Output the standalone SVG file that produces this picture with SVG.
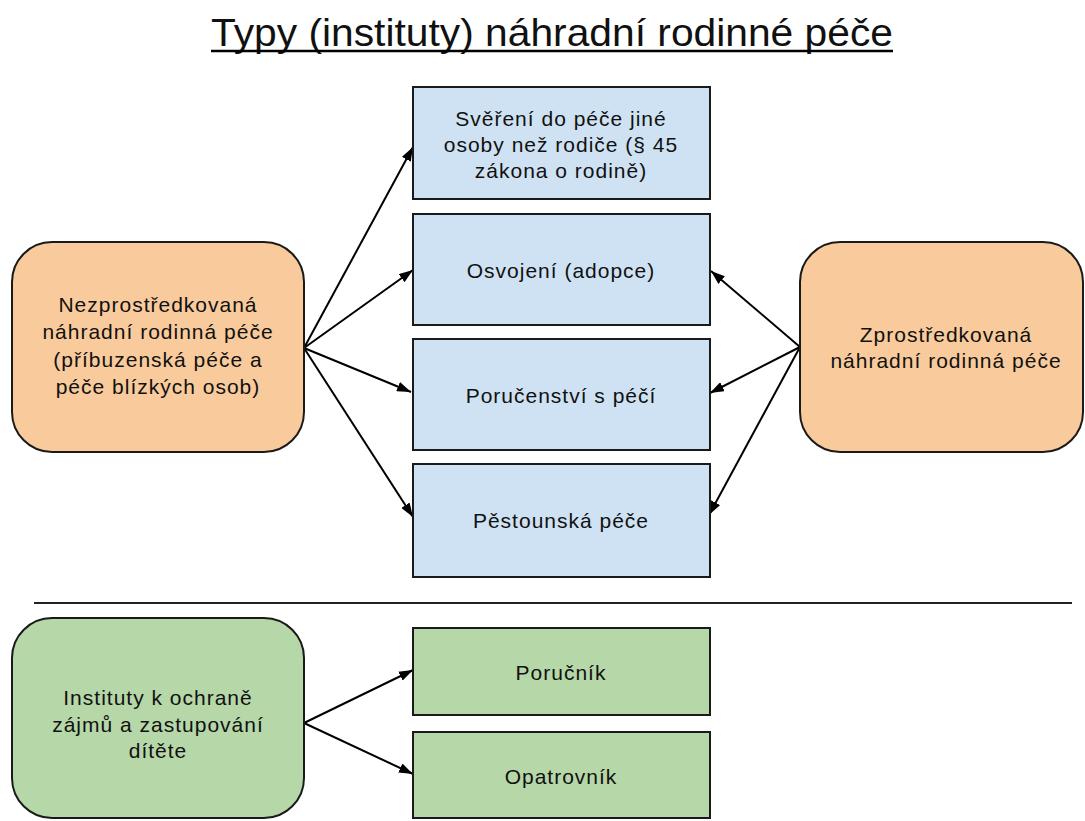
<svg xmlns="http://www.w3.org/2000/svg" width="1085" height="821" viewBox="0 0 1085 821">
<style>
text{font-family:"Liberation Sans",Arial,sans-serif;fill:#111;text-anchor:middle}
.t{font-size:21px;letter-spacing:1px}
.box{stroke:#1a1a1a;stroke-width:2}
.blue{fill:#cfe2f3}
.orange{fill:#f9cb9c}
.green{fill:#b6d7a8}
.conn line{stroke:#000;stroke-width:2}
</style>
<defs>
<marker id="ah" viewBox="0 0 14 10" refX="14" refY="5" markerWidth="14" markerHeight="10" markerUnits="userSpaceOnUse" orient="auto">
<path d="M0,0 L14,5 L0,10 Z" fill="#000"/>
</marker>
</defs>
<rect width="1085" height="821" fill="#fff"/>
<g id="title">
<text x="552" y="46" style="font-size:39px" textLength="682" lengthAdjust="spacingAndGlyphs">Typy (instituty) náhradní rodinné péče</text>
<line x1="211" y1="51" x2="893" y2="51" stroke="#000" stroke-width="2.5"/>
</g>
<g id="divider"><line x1="34" y1="603" x2="1072" y2="603" stroke="#222" stroke-width="2"/></g>
<g class="conn" id="connectors">
<line x1="304" y1="348" x2="413" y2="147" marker-end="url(#ah)"/>
<line x1="304" y1="348" x2="413" y2="270" marker-end="url(#ah)"/>
<line x1="304" y1="348" x2="411" y2="392" marker-end="url(#ah)"/>
<line x1="304" y1="348" x2="413" y2="517" marker-end="url(#ah)"/>
<line x1="800" y1="347" x2="711" y2="271" marker-end="url(#ah)"/>
<line x1="800" y1="347" x2="710" y2="393" marker-end="url(#ah)"/>
<line x1="800" y1="347" x2="709" y2="515" marker-end="url(#ah)"/>
<line x1="304" y1="723" x2="413" y2="670" marker-end="url(#ah)"/>
<line x1="304" y1="723" x2="413" y2="774" marker-end="url(#ah)"/>
</g>
<g id="n-nezprostredkovana">
<rect class="box orange" x="12" y="242" width="292" height="210" rx="40"/>
<text class="t" x="158" y="312">Nezprostředkovaná</text>
<text class="t" x="158" y="339">náhradní rodinná péče</text>
<text class="t" x="158" y="367">(příbuzenská péče a</text>
<text class="t" x="158" y="394">péče blízkých osob)</text>
</g>
<g id="n-zprostredkovana">
<rect class="box orange" x="800" y="242" width="283" height="210" rx="40"/>
<text class="t" x="946" y="342">Zprostředkovaná</text>
<text class="t" x="946" y="368">náhradní rodinná péče</text>
</g>
<g id="n-sverení">
<rect class="box blue" x="413" y="87" width="297" height="112"/>
<text class="t" x="561" y="126">Svěření do péče jiné</text>
<text class="t" x="561" y="152">osoby než rodiče (§ 45</text>
<text class="t" x="561" y="178">zákona o rodině)</text>
</g>
<g id="n-osvojeni">
<rect class="box blue" x="413" y="214" width="297" height="111"/>
<text class="t" x="561" y="278">Osvojení (adopce)</text>
</g>
<g id="n-porucenstvi">
<rect class="box blue" x="413" y="339" width="297" height="111"/>
<text class="t" x="561" y="403">Poručenství s péčí</text>
</g>
<g id="n-pestounska">
<rect class="box blue" x="413" y="464" width="297" height="113"/>
<text class="t" x="561" y="528">Pěstounská péče</text>
</g>
<g id="n-instituty">
<rect class="box green" x="12" y="618" width="292" height="200" rx="40"/>
<text class="t" x="158" y="705">Instituty k ochraně</text>
<text class="t" x="158" y="732">zájmů a zastupování</text>
<text class="t" x="158" y="758">dítěte</text>
</g>
<g id="n-porucnik">
<rect class="box green" x="413" y="628" width="297" height="87"/>
<text class="t" x="561" y="680">Poručník</text>
</g>
<g id="n-opatrovnik">
<rect class="box green" x="413" y="732" width="297" height="86"/>
<text class="t" x="561" y="784">Opatrovník</text>
</g>
</svg>
